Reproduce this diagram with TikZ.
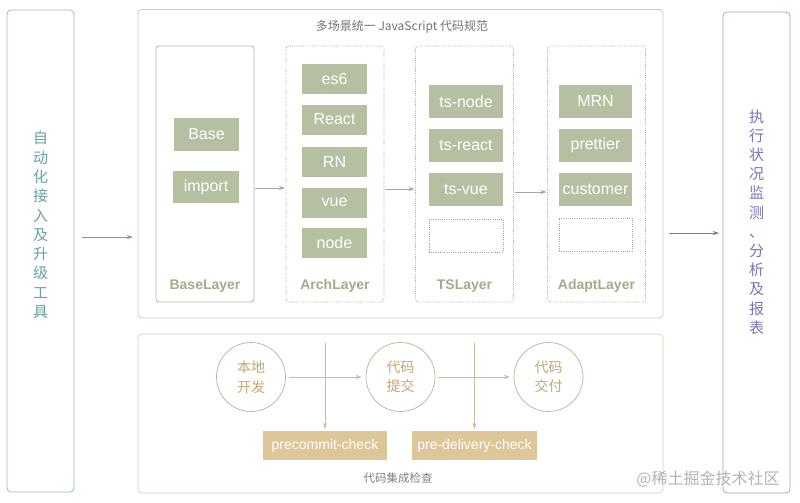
\documentclass[tikz,border=0pt]{standalone}
\usepackage{fontspec}
\setmainfont{Liberation Sans}
\newfontfamily\cjk{Noto Sans CJK SC}
\usetikzlibrary{arrows.meta}

\definecolor{tealline}{RGB}{150,188,188}
\definecolor{tealtext}{RGB}{104,160,164}
\definecolor{purpline}{RGB}{160,160,208}
\definecolor{purptext}{RGB}{118,118,182}
\definecolor{greybox}{RGB}{200,200,200}
\definecolor{greenfill}{RGB}{181,192,162}
\definecolor{greentext}{RGB}{163,171,138}
\definecolor{tanline}{RGB}{216,208,186}
\definecolor{tanfill}{RGB}{221,198,152}
\definecolor{tantext}{RGB}{196,166,112}
\definecolor{tanarrow}{RGB}{200,190,158}

\tikzset{
  sidebox/.style={draw=#1, rounded corners=4pt, line width=0.8pt},
  layerbox/.style={draw=greybox!90!black, rounded corners=3pt, line width=0.8pt,
    minimum width=98pt, minimum height=256pt},
  dotbox/.style={draw=greybox!80!black, rounded corners=3pt, line width=0.7pt,
    dash pattern=on 0.8pt off 1.4pt},
  item/.style={fill=greenfill, text=white, font=\fontsize{16}{16}\selectfont},
  layerlabel/.style={text=greentext, font=\bfseries\fontsize{14}{14}\selectfont},
  stage/.style={circle, draw=tanline!85!black, line width=0.7pt, minimum size=69pt,
    text=tantext, align=center, font=\cjk\fontsize{14}{19.5}\selectfont},
  checkbox/.style={fill=tanfill, text=white, minimum height=29pt,
    font=\fontsize{14}{14}\selectfont},
  tip/.style={-{Stealth[length=6pt,width=4pt]}}
}

\begin{document}
\begin{tikzpicture}[y=1pt, x=1pt, yscale=-1, inner sep=0pt, outer sep=0pt]
\useasboundingbox (0,0) rectangle (800,503);

% side boxes
\node[sidebox=tealline, minimum width=67pt, minimum height=482pt] (tool) at (40.5,251) {};
\node[text=tealtext, align=center, font=\cjk\fontsize{15}{19.3}\selectfont] (tooltext) at (40.5,225)
  {自\\动\\化\\接\\入\\及\\升\\级\\工\\具};
\node[sidebox=purpline, minimum width=67pt, minimum height=481pt] (report) at (756.5,252.5) {};
\node[text=purptext, align=center, font=\cjk\fontsize{15}{19.2}\selectfont] (reporttext) at (756.5,222)
  {执\\行\\状\\况\\监\\测\\、\\分\\析\\及\\报\\表};

% code spec box
\node[sidebox=greybox, minimum width=525pt, minimum height=308.5pt] (spec) at (400.5,163.75) {};
\node[text=black!55, font=\cjk\fontsize{12}{12}\selectfont] (spectitle) at (402,27)
  {多场景统一 JavaScript 代码规范};

\node[layerbox] (base) at (205,174) {};
\node[layerbox, dotbox] (arch) at (335,174) {};
\node[layerbox, dotbox] (ts) at (464.5,174) {};
\node[layerbox, dotbox] (adapt) at (596.5,174) {};
\node[layerlabel] (baselabel) at (205,286) {BaseLayer};
\node[layerlabel] (archlabel) at (335,286) {ArchLayer};
\node[layerlabel] (tslabel) at (464.5,286) {TSLayer};
\node[layerlabel] (adaptlabel) at (596.5,286) {AdaptLayer};

\node[item, minimum width=65pt, minimum height=33pt] (bBase) at (206.5,134.5) {Base};
\node[item, minimum width=66pt, minimum height=32pt] (bImport) at (206,187) {import};

\node[item, minimum width=65pt, minimum height=30pt] (aEs) at (334.5,79) {es6};
\node[item, minimum width=65pt, minimum height=30pt] (aReact) at (334.5,119.5) {React};
\node[item, minimum width=65pt, minimum height=30pt] (aRN) at (334.5,161.5) {RN};
\node[item, minimum width=65pt, minimum height=30pt] (aVue) at (334.5,202.5) {vue};
\node[item, minimum width=65pt, minimum height=30pt] (aNode) at (334.5,243) {node};

\node[item, minimum width=74pt, minimum height=33pt] (tNode) at (466,101.5) {ts-node};
\node[item, minimum width=74pt, minimum height=33pt] (tReact) at (466,145.5) {ts-react};
\node[item, minimum width=74pt, minimum height=33pt] (tVue) at (466,189.5) {ts-vue};
\node[dotbox, minimum width=74pt, minimum height=33pt, rounded corners=0pt] (tEmpty) at (466,235.5) {};

\node[item, minimum width=73pt, minimum height=33pt] (dMRN) at (595.5,101) {MRN};
\node[item, minimum width=73pt, minimum height=33pt] (dPrettier) at (595.5,145.5) {prettier};
\node[item, minimum width=73pt, minimum height=33pt] (dCustomer) at (595.5,189.5) {customer};
\node[dotbox, minimum width=73pt, minimum height=33pt, rounded corners=0pt] (dEmpty) at (595.5,234.5) {};

\draw[tip, draw=black!35, line width=0.8pt, shorten <=1pt, shorten >=1pt]
  ([yshift=14pt]base.east) -- ([yshift=14pt]arch.west);
\draw[tip, draw=black!35, line width=0.8pt, shorten <=1pt, shorten >=1pt]
  ([yshift=15pt]arch.east) -- ([yshift=15pt]ts.west);
\draw[tip, draw=black!35, line width=0.8pt, shorten <=1pt, shorten >=1pt]
  ([yshift=18pt]ts.east) -- ([yshift=18pt]adapt.west);

% in and out
\draw[tip, draw=tealtext, line width=1pt] ([xshift=8pt]tool.east |- 0,237) -- ([xshift=-5pt]spec.west |- 0,237);
\draw[tip, draw=purptext, line width=1pt] ([xshift=6pt]spec.east |- 0,233) -- ([xshift=-4pt]report.west |- 0,233);

% integration check box
\node[sidebox=tanline, minimum width=525pt, minimum height=159pt] (check) at (400.5,413.5) {};
\node[stage] (dev) at (251,377) {本地\\开发};
\node[stage] (commit) at (400.5,377) {代码\\提交};
\node[stage] (deliver) at (548.5,377) {代码\\交付};
\node[checkbox, minimum width=124pt] (precommit) at (325,445.5) {precommit-check};
\node[checkbox, minimum width=125pt] (predelivery) at (474.5,445.5) {pre-delivery-check};
\node[text=black!50, font=\cjk\fontsize{11.5}{11.5}\selectfont] (checklabel) at (398,478) {代码集成检查};

\draw[tip, draw=tanarrow, line width=1pt, shorten <=3pt, shorten >=4pt] (dev) -- (commit);
\draw[tip, draw=tanarrow, line width=1pt, shorten <=3pt, shorten >=4pt] (commit) -- (deliver);
\draw[tip, draw=tanarrow, line width=0.8pt, shorten >=2pt] (precommit.north |- dev.north) -- (precommit.north);
\draw[tip, draw=tanarrow, line width=0.8pt, shorten >=2pt] (predelivery.north |- commit.north) -- (predelivery.north);

% watermark
\node[text=black!30, font=\cjk\fontsize{16}{16}\selectfont] (mark) at (708,479) {@稀土掘金技术社区};
\end{tikzpicture}
\end{document}
